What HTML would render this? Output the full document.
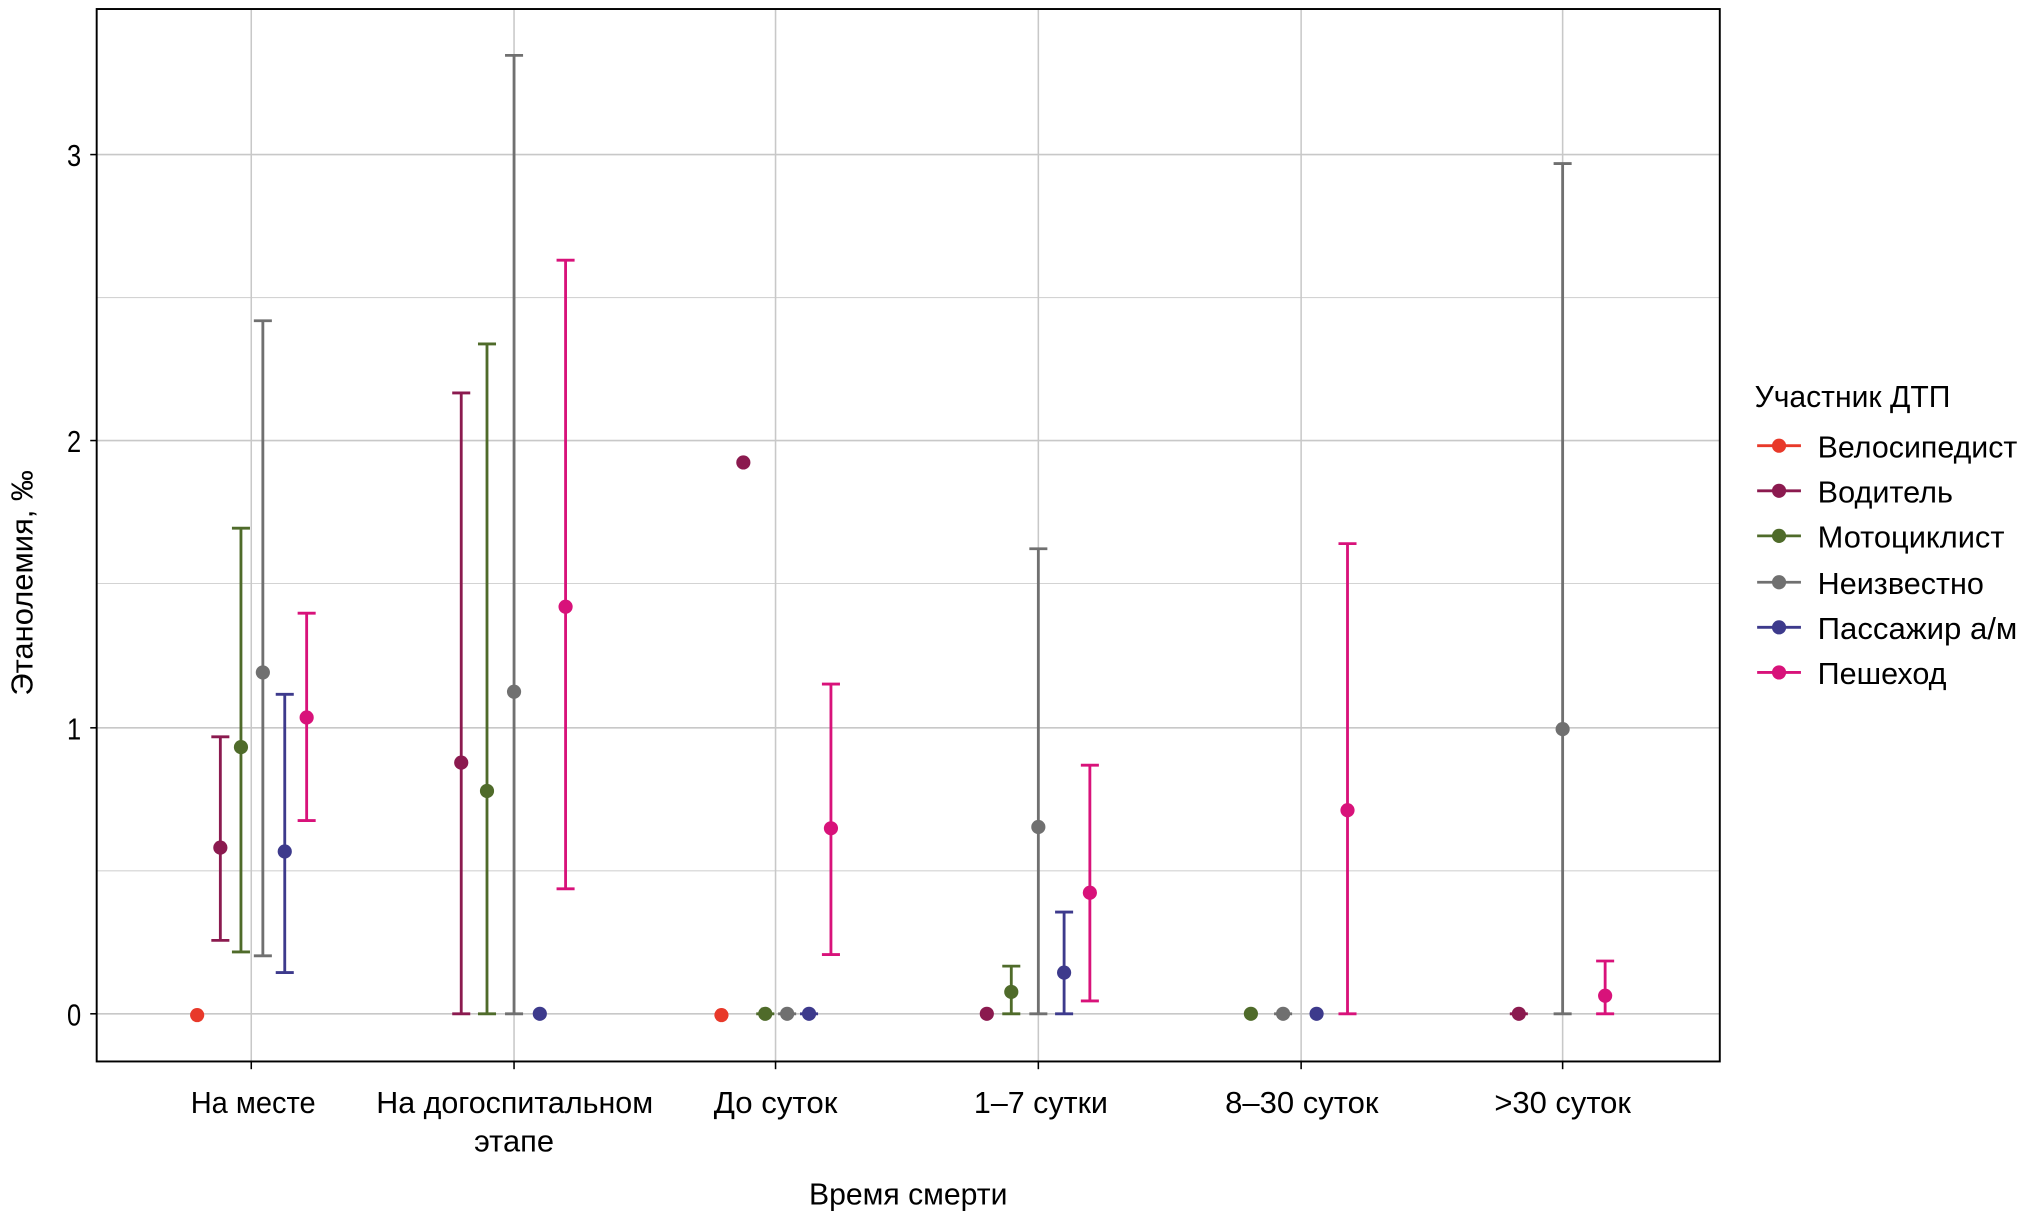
<!DOCTYPE html>
<html><head><meta charset="utf-8"><style>html,body{margin:0;padding:0;background:#fff}svg{display:block}</style></head>
<body>
<svg width="2020" height="1223" viewBox="0 0 1568 949.4" xmlns="http://www.w3.org/2000/svg" font-family="'Liberation Sans', sans-serif" font-size="24">
<rect width="1568" height="949.4" fill="#fff"/>
<g stroke="#d3d3d3" stroke-width="0.8">
<line x1="75" x2="1335" y1="676" y2="676"/><line x1="75" x2="1335" y1="453" y2="453"/><line x1="75" x2="1335" y1="231" y2="231"/>
</g>
<g stroke="#c8c8c8" stroke-width="1.2">
<line x1="75" x2="1335" y1="787" y2="787"/><line x1="75" x2="1335" y1="565" y2="565"/><line x1="75" x2="1335" y1="342" y2="342"/><line x1="75" x2="1335" y1="120" y2="120"/>
<line x1="195" x2="195" y1="7" y2="824"/><line x1="399" x2="399" y1="7" y2="824"/><line x1="602" x2="602" y1="7" y2="824"/><line x1="806" x2="806" y1="7" y2="824"/><line x1="1010" x2="1010" y1="7" y2="824"/><line x1="1213" x2="1213" y1="7" y2="824"/>
</g>
<rect x="75" y="7" width="1260" height="817" fill="none" stroke="#000" stroke-width="1.5"/>
<g stroke="#000" stroke-width="1.2">
<line x1="70" x2="75" y1="787" y2="787"/><line x1="70" x2="75" y1="565" y2="565"/><line x1="70" x2="75" y1="342" y2="342"/><line x1="70" x2="75" y1="120" y2="120"/>
<line x1="195" x2="195" y1="824" y2="830"/><line x1="399" x2="399" y1="824" y2="830"/><line x1="602" x2="602" y1="824" y2="830"/><line x1="806" x2="806" y1="824" y2="830"/><line x1="1010" x2="1010" y1="824" y2="830"/><line x1="1213" x2="1213" y1="824" y2="830"/>
</g>
<g text-anchor="end" font-size="24">
<text x="63" y="796" textLength="11" lengthAdjust="spacingAndGlyphs">0</text>
<text x="63" y="574" textLength="11" lengthAdjust="spacingAndGlyphs">1</text>
<text x="63" y="351" textLength="11" lengthAdjust="spacingAndGlyphs">2</text>
<text x="63" y="129" textLength="11" lengthAdjust="spacingAndGlyphs">3</text>
</g>
<g font-size="24">
<text x="148" y="864" textLength="97" lengthAdjust="spacingAndGlyphs">На месте</text>
<text x="292" y="864" textLength="215" lengthAdjust="spacingAndGlyphs">На догоспитальном</text>
<text x="368" y="894" textLength="62" lengthAdjust="spacingAndGlyphs">этапе</text>
<text x="554" y="864" textLength="96" lengthAdjust="spacingAndGlyphs">До суток</text>
<text x="756" y="864" textLength="104" lengthAdjust="spacingAndGlyphs">1–7 сутки</text>
<text x="951" y="864" textLength="119" lengthAdjust="spacingAndGlyphs">8–30 суток</text>
<text x="1160" y="864" textLength="106" lengthAdjust="spacingAndGlyphs">&gt;30 суток</text>
<text x="628" y="935" textLength="154" lengthAdjust="spacingAndGlyphs">Время смерти</text>
<text transform="translate(25,540) rotate(-90)" x="0" y="0" textLength="175" lengthAdjust="spacingAndGlyphs">Этанолемия, ‰</text>
</g>
<g stroke-width="2.2" fill="none">
<!-- cat1 -->
<path stroke="#8b1a4f" d="M171 572V730M164 572H178M164 730H178"/>
<path stroke="#4f6b2a" d="M187 410V739M180 410H194M180 739H194"/>
<path stroke="#707070" d="M204 249V742M197 249H211M197 742H211"/>
<path stroke="#3d3a8c" d="M221 539V755M214 539H228M214 755H228"/>
<path stroke="#d8127a" d="M238 476V637M231 476H245M231 637H245"/>
<!-- cat2 -->
<path stroke="#8b1a4f" d="M358 305V787M351 305H365M351 787H365"/>
<path stroke="#4f6b2a" d="M378 267V787M371 267H385M371 787H385"/>
<path stroke="#707070" d="M399 43V787M392 43H406M392 787H406"/>
<path stroke="#d8127a" d="M439 202V690M432 202H446M432 690H446"/>
<!-- cat3 -->
<path stroke="#4f6b2a" d="M587 787H601"/>
<path stroke="#707070" d="M604 787H618"/>
<path stroke="#3d3a8c" d="M621 787H635"/>
<path stroke="#d8127a" d="M645 531V741M638 531H652M638 741H652"/>
<!-- cat4 -->
<path stroke="#4f6b2a" d="M785 750V787M778 750H792M778 787H792"/>
<path stroke="#707070" d="M806 426V787M799 426H813M799 787H813"/>
<path stroke="#3d3a8c" d="M826 708V787M819 708H833M819 787H833"/>
<path stroke="#d8127a" d="M846 594V777M839 594H853M839 777H853"/>
<!-- cat5 -->
<path stroke="#707070" d="M989 787H1003"/>
<path stroke="#d8127a" d="M1046 422V787M1039 422H1053M1039 787H1053"/>
<!-- cat6 -->
<path stroke="#8b1a4f" d="M1172 787H1186"/>
<path stroke="#707070" d="M1213 127V787M1206 127H1220M1206 787H1220"/>
<path stroke="#d8127a" d="M1246 746V787M1239 746H1253M1239 787H1253"/>
</g>
<g>
<circle cx="153" cy="788" r="5.5" fill="#e8392a"/>
<circle cx="171" cy="658" r="5.5" fill="#8b1a4f"/>
<circle cx="187" cy="580" r="5.5" fill="#4f6b2a"/>
<circle cx="204" cy="522" r="5.5" fill="#707070"/>
<circle cx="221" cy="661" r="5.5" fill="#3d3a8c"/>
<circle cx="238" cy="557" r="5.5" fill="#d8127a"/>
<circle cx="358" cy="592" r="5.5" fill="#8b1a4f"/>
<circle cx="378" cy="614" r="5.5" fill="#4f6b2a"/>
<circle cx="399" cy="537" r="5.5" fill="#707070"/>
<circle cx="419" cy="787" r="5.5" fill="#3d3a8c"/>
<circle cx="439" cy="471" r="5.5" fill="#d8127a"/>
<circle cx="560" cy="788" r="5.5" fill="#e8392a"/>
<circle cx="577" cy="359" r="5.5" fill="#8b1a4f"/>
<circle cx="594" cy="787" r="5.5" fill="#4f6b2a"/>
<circle cx="611" cy="787" r="5.5" fill="#707070"/>
<circle cx="628" cy="787" r="5.5" fill="#3d3a8c"/>
<circle cx="645" cy="643" r="5.5" fill="#d8127a"/>
<circle cx="766" cy="787" r="5.5" fill="#8b1a4f"/>
<circle cx="785" cy="770" r="5.5" fill="#4f6b2a"/>
<circle cx="806" cy="642" r="5.5" fill="#707070"/>
<circle cx="826" cy="755" r="5.5" fill="#3d3a8c"/>
<circle cx="846" cy="693" r="5.5" fill="#d8127a"/>
<circle cx="971" cy="787" r="5.5" fill="#4f6b2a"/>
<circle cx="996" cy="787" r="5.5" fill="#707070"/>
<circle cx="1022" cy="787" r="5.5" fill="#3d3a8c"/>
<circle cx="1046" cy="629" r="5.5" fill="#d8127a"/>
<circle cx="1179" cy="787" r="5.5" fill="#8b1a4f"/>
<circle cx="1213" cy="566" r="5.5" fill="#707070"/>
<circle cx="1246" cy="773" r="5.5" fill="#d8127a"/>
</g>
<g font-size="24">
<text x="1362" y="316" textLength="152" lengthAdjust="spacingAndGlyphs">Участник ДТП</text>
<g stroke-width="2.2">
<line x1="1364" x2="1398" y1="346" y2="346" stroke="#e8392a"/>
<line x1="1364" x2="1398" y1="381" y2="381" stroke="#8b1a4f"/>
<line x1="1364" x2="1398" y1="416" y2="416" stroke="#4f6b2a"/>
<line x1="1364" x2="1398" y1="452" y2="452" stroke="#707070"/>
<line x1="1364" x2="1398" y1="487" y2="487" stroke="#3d3a8c"/>
<line x1="1364" x2="1398" y1="522" y2="522" stroke="#d8127a"/>
</g>
<circle cx="1381" cy="346" r="5.5" fill="#e8392a"/>
<circle cx="1381" cy="381" r="5.5" fill="#8b1a4f"/>
<circle cx="1381" cy="416" r="5.5" fill="#4f6b2a"/>
<circle cx="1381" cy="452" r="5.5" fill="#707070"/>
<circle cx="1381" cy="487" r="5.5" fill="#3d3a8c"/>
<circle cx="1381" cy="522" r="5.5" fill="#d8127a"/>
<text x="1411" y="355" textLength="155" lengthAdjust="spacingAndGlyphs">Велосипедист</text>
<text x="1411" y="390" textLength="105" lengthAdjust="spacingAndGlyphs">Водитель</text>
<text x="1411" y="425" textLength="145" lengthAdjust="spacingAndGlyphs">Мотоциклист</text>
<text x="1411" y="461" textLength="129" lengthAdjust="spacingAndGlyphs">Неизвестно</text>
<text x="1411" y="496" textLength="155" lengthAdjust="spacingAndGlyphs">Пассажир а/м</text>
<text x="1411" y="531" textLength="100" lengthAdjust="spacingAndGlyphs">Пешеход</text>
</g>
</svg>
</body></html>
